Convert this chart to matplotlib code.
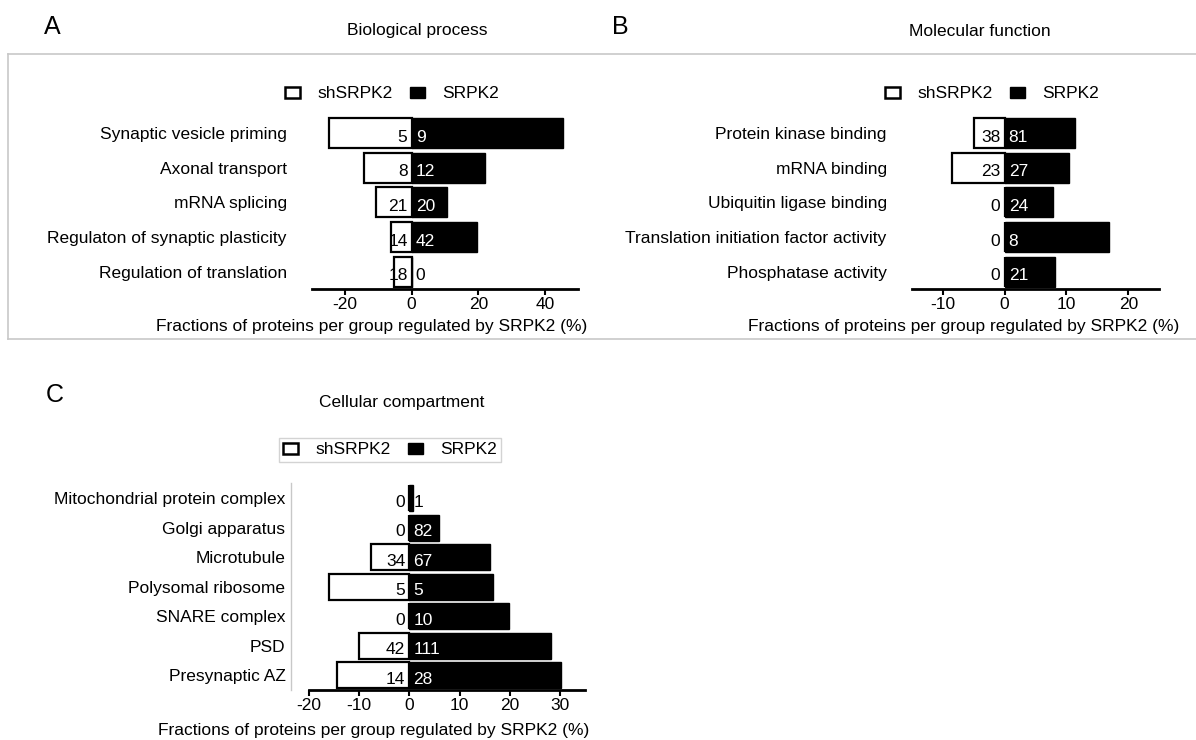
import matplotlib
matplotlib.use("Agg")
import matplotlib.pyplot as plt
from matplotlib.patches import Patch
from matplotlib.lines import Line2D

plt.rcParams['font.family'] = ['Liberation Sans', 'DejaVu Sans']
plt.rcParams['axes.unicode_minus'] = False

# =============== data ===============
# fraction of proteins per group (%), shSRPK2 drawn to the left
bp_terms = ['Synaptic vesicle priming', 'Axonal transport', 'mRNA splicing',
            'Regulaton of synaptic plasticity', 'Regulation of translation']
bp_sh = [24.7, 14.3, 10.7, 6.2, 5.3]
bp_srpk = [45.3, 22.0, 10.5, 19.5, 0.0]
bp_sh_n = [5, 8, 21, 14, 18]
bp_srpk_n = [9, 12, 20, 42, 0]

mf_terms = ['Protein kinase binding', 'mRNA binding', 'Ubiquitin ligase binding',
            'Translation initiation factor activity', 'Phosphatase activity']
mf_sh = [5.0, 8.5, 0.0, 0.0, 0.0]
mf_srpk = [11.4, 10.4, 7.9, 16.9, 8.2]
mf_sh_n = [38, 23, 0, 0, 0]
mf_srpk_n = [81, 27, 24, 8, 21]

cc_terms = ['Mitochondrial protein complex', 'Golgi apparatus', 'Microtubule',
            'Polysomal ribosome', 'SNARE complex', 'PSD', 'Presynaptic AZ']
cc_sh = [0.0, 0.0, 7.65, 16.0, 0.0, 10.1, 14.5]
cc_srpk = [0.8, 6.0, 16.0, 16.7, 19.9, 28.2, 30.2]
cc_sh_n = [0, 0, 34, 5, 0, 42, 14]
cc_srpk_n = [1, 82, 67, 5, 10, 111, 28]

xlab = 'Fractions of proteins per group regulated by SRPK2 (%)'
W, H = 1196, 740
FS = 12.5
grey = '#c8c8c8'


def fx(px):
    return px / W


def fy(py):
    return 1 - py / H


def draw_panel(ax, terms, sh, srpk, sh_n, srpk_n, xlim, xticks, bar_h, ypad):
    y = list(range(len(terms)))
    ax.barh(y, [-v for v in sh], height=bar_h, color='white',
            edgecolor='black', linewidth=1.6, zorder=2)
    ax.barh(y, srpk, height=bar_h, color='black',
            edgecolor='black', linewidth=1.0, zorder=2)
    for i in y:
        ax.annotate(str(sh_n[i]), (0, i), xytext=(-3, -3), textcoords='offset points',
                    ha='right', va='center', fontsize=FS, color='black', zorder=3)
        col = 'white' if srpk[i] > 2 else 'black'
        ax.annotate(str(srpk_n[i]), (0, i), xytext=(3, -3), textcoords='offset points',
                    ha='left', va='center', fontsize=FS, color=col, zorder=3)
    ax.set_xlim(*xlim)
    ax.set_ylim(len(terms) - 0.5, -0.5)
    ax.set_xticks(xticks)
    ax.set_yticks(y)
    ax.set_yticklabels(terms)
    ax.tick_params(axis='y', length=0, pad=ypad, labelsize=FS)
    ax.tick_params(axis='x', length=4, width=1.5, labelsize=FS, pad=2)
    for s in ['top', 'right', 'left']:
        ax.spines[s].set_visible(False)
    ax.spines['bottom'].set_linewidth(2)


def add_legend(cx, cy, frame):
    handles = [Patch(facecolor='white', edgecolor='black', linewidth=1.8),
               Patch(facecolor='black', edgecolor='black')]
    leg = fig.legend(handles, ['shSRPK2', 'SRPK2'], ncol=2, loc='center',
                     bbox_to_anchor=(fx(cx), fy(cy)), fontsize=FS,
                     handlelength=0.85, handleheight=0.6, handletextpad=1.0,
                     columnspacing=1.0, frameon=frame, fancybox=False,
                     borderpad=0.25, borderaxespad=0)
    if frame:
        leg.get_frame().set_edgecolor(grey)
        leg.get_frame().set_linewidth(1)


fig = plt.figure(figsize=(W / 100, H / 100), dpi=100)

# panel A
axA = fig.add_axes([fx(311.7), fy(289), fx(578.3 - 311.7), (289 - 115.7) / H])
draw_panel(axA, bp_terms, bp_sh, bp_srpk, bp_sh_n, bp_srpk_n,
           (-30, 50), [-20, 0, 20, 40], 0.86, 18)

# panel B
axB = fig.add_axes([fx(911.7), fy(289), fx(1159.3 - 911.7), (289 - 115.7) / H])
draw_panel(axB, mf_terms, mf_sh, mf_srpk, mf_sh_n, mf_srpk_n,
           (-15, 25), [-10, 0, 10, 20], 0.86, 18)

# panel C, y axis line pushed out to the left in light grey
axC = fig.add_axes([fx(309), fy(690), fx(585 - 309), (690 - 483.2) / H])
draw_panel(axC, cc_terms, cc_sh, cc_srpk, cc_sh_n, cc_srpk_n,
           (-20, 35), [-20, -10, 0, 10, 20, 30], 0.88, 4)
axC.spines['left'].set_visible(True)
axC.spines['left'].set_position(('outward', 13))
axC.spines['left'].set_color(grey)
axC.spines['left'].set_linewidth(1)

# axis labels
fig.text(fx(372), fy(327), xlab, ha='center', va='center', fontsize=FS)
fig.text(fx(964), fy(327), xlab, ha='center', va='center', fontsize=FS)
fig.text(fx(374), fy(730), xlab, ha='center', va='center', fontsize=FS)

# titles and panel letters
fig.text(fx(417), fy(31), 'Biological process', ha='center', va='center', fontsize=FS)
fig.text(fx(980), fy(31), 'Molecular function', ha='center', va='center', fontsize=FS)
fig.text(fx(402), fy(403), 'Cellular compartment', ha='center', va='center', fontsize=FS)
fig.text(fx(52), fy(27), 'A', ha='center', va='center', fontsize=18)
fig.text(fx(620), fy(27), 'B', ha='center', va='center', fontsize=18)
fig.text(fx(55), fy(395), 'C', ha='center', va='center', fontsize=18)

add_legend(392, 94, False)
add_legend(992, 94, False)
add_legend(390, 450, True)

# grey frame around the top panels
for xs, ys in [([8, W], [54, 54]), ([8, 8], [54, 339]), ([8, W], [339, 339])]:
    fig.add_artist(Line2D([fx(v) for v in xs], [fy(v) for v in ys],
                          color=grey, linewidth=1.2))

fig.savefig('out.png', dpi=100)
